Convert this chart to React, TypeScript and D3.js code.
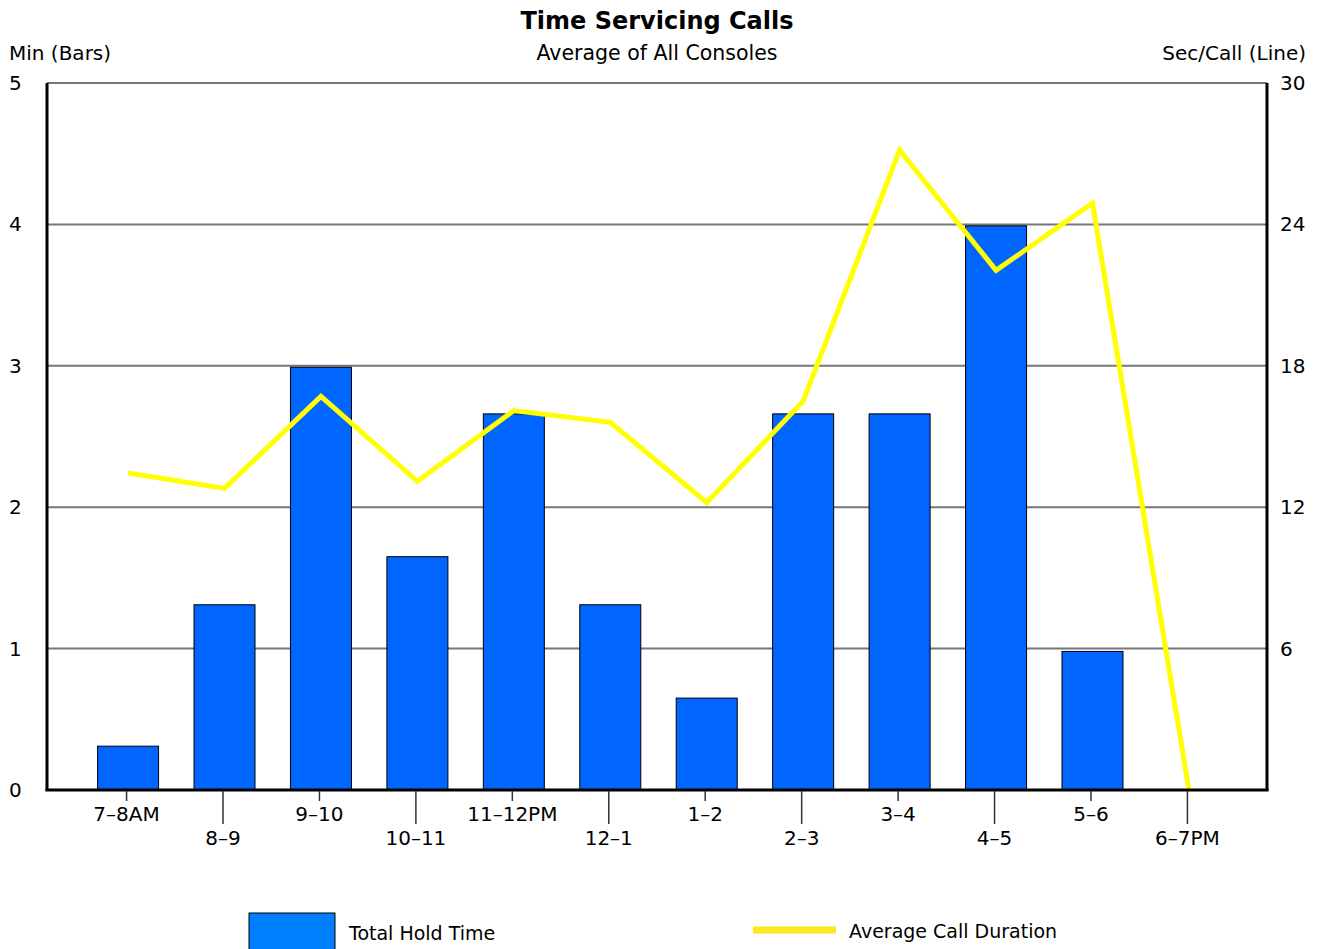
import React from "react";
import * as d3 from "d3";

const categories = ["7–8AM", "8–9", "9–10", "10–11", "11–12PM", "12–1", "1–2", "2–3", "3–4", "4–5", "5–6", "6–7PM"];
const holdMinutes = [0.31, 1.31, 2.99, 1.65, 2.66, 1.31, 0.65, 2.66, 2.66, 3.99, 0.98, 0];
const secPerCall = [13.45, 12.8, 16.7, 13.1, 16.1, 15.6, 12.2, 16.5, 27.15, 22.05, 24.9, 0];
const leftTicks = [0, 1, 2, 3, 4, 5];
const rightTicks = [6, 12, 18, 24, 30];

const W = 1320;
const H = 949;
const FONT = "'DejaVu Sans', Verdana, sans-serif";

export default function App() {
  const left = 47, right = 1267, top = 83, bottom = 790;
  const x = d3.scalePoint<string>().domain(categories).range([left, right]).padding(0.825);
  const yL = d3.scaleLinear().domain([0, 5]).range([bottom, top]);
  const yR = d3.scaleLinear().domain([0, 30]).range([bottom, top]);
  const barW = 61;
  const barShift = 1.5;
  const line = d3
    .line<number>()
    .x((_, i) => (x(categories[i]) as number) + barShift)
    .y((d) => yR(d));

  return (
    <svg width={W} height={H} style={{ position: "absolute", left: 0, top: 0 }} fontFamily={FONT}>
      <rect x={0} y={0} width={W} height={H} fill="#fff" />
      <text x={657} y={29} textAnchor="middle" fontSize={24} fontWeight="bold" fill="#000">
        Time Servicing Calls
      </text>
      <text x={657} y={60} textAnchor="middle" fontSize={20.5} fill="#000">
        Average of All Consoles
      </text>
      <text x={9} y={60} fontSize={20} fill="#000">Min (Bars)</text>
      <text x={1306} y={60} textAnchor="end" fontSize={20} fill="#000">Sec/Call (Line)</text>

      {leftTicks.filter((t) => t > 0).map((t) => (
        <line key={t} x1={left} x2={right} y1={yL(t)} y2={yL(t)} stroke="#777" strokeWidth={2} />
      ))}
      {leftTicks.map((t) => (
        <text key={t} x={9} y={yL(t) + 7} fontSize={20} fill="#000">{t}</text>
      ))}
      {rightTicks.map((t) => (
        <text key={t} x={1280} y={yR(t) + 7} fontSize={20} fill="#000">{t}</text>
      ))}

      {categories.map((c, i) => (
        holdMinutes[i] > 0 ? (
          <rect
            key={c}
            x={(x(c) as number) + barShift - barW / 2}
            y={yL(holdMinutes[i])}
            width={barW}
            height={bottom - yL(holdMinutes[i])}
            fill="#0066ff"
            stroke="#000"
            strokeWidth={1}
          />
        ) : null
      ))}

      <path d={line(secPerCall) || ""} fill="none" stroke="#ffff00" strokeWidth={5} strokeLinejoin="miter" />

      <line x1={left} x2={left} y1={top} y2={bottom + 1} stroke="#000" strokeWidth={3} />
      <line x1={right} x2={right} y1={top} y2={bottom + 1} stroke="#000" strokeWidth={3} />
      <line x1={left - 1.5} x2={right + 1.5} y1={bottom} y2={bottom} stroke="#000" strokeWidth={3} />

      {categories.map((c, i) => {
        const cx = x(c) as number;
        const odd = i % 2 === 1;
        return (
          <g key={c}>
            <line x1={cx} x2={cx} y1={bottom + 1} y2={odd ? 824 : 801} stroke="#333" strokeWidth={1.5} />
            <text x={cx} y={odd ? 845 : 821} textAnchor="middle" fontSize={20} fill="#000">{c}</text>
          </g>
        );
      })}

      <rect x={249} y={913} width={86} height={40} fill="#0080ff" stroke="#000" strokeWidth={1} />
      <text x={349} y={940} fontSize={19} fill="#000">Total Hold Time</text>
      <line x1={753} x2={836} y1={930} y2={930} stroke="#ffe61e" strokeWidth={7} />
      <text x={849} y={938} fontSize={19} fill="#000">Average Call Duration</text>
    </svg>
  );
}
